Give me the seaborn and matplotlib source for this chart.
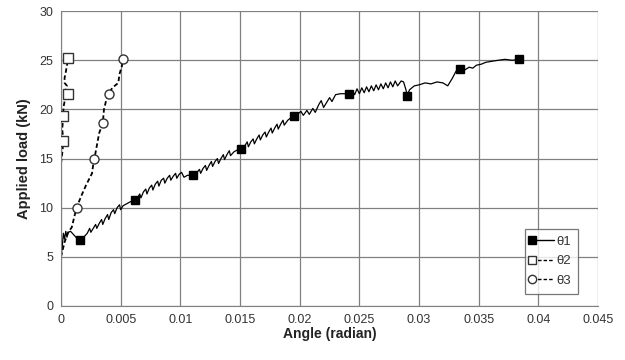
import numpy as np
import pandas as pd
import matplotlib
matplotlib.use("Agg")
import matplotlib.pyplot as plt
from matplotlib.lines import Line2D
import seaborn as sns

# theta1 - traced load/angle curve (sawtooth)
theta1_x = [0.0000, 0.0001, 0.0002, 0.0003, 0.0004, 0.0005, 0.0006, 0.0008, 0.0011, 0.0014, 0.0016,
            0.0019, 0.0022, 0.0024, 0.0025, 0.0027, 0.0029, 0.0030, 0.0032, 0.0034, 0.0035, 0.0037,
            0.0039, 0.0040, 0.0042, 0.0044, 0.0045, 0.0047, 0.0049, 0.0050, 0.0052, 0.0055, 0.0058,
            0.0062,
            0.0064, 0.0066, 0.0067, 0.0069, 0.0071, 0.0072, 0.0074, 0.0076, 0.0077, 0.0079, 0.0081,
            0.0082, 0.0084, 0.0086, 0.0087, 0.0089, 0.0091, 0.0092, 0.0094, 0.0096, 0.0097, 0.0099,
            0.0101, 0.0103, 0.0106, 0.0111,
            0.0114, 0.0116, 0.0117, 0.0119, 0.0121, 0.0122, 0.0124, 0.0126, 0.0127, 0.0129, 0.0131,
            0.0132, 0.0134, 0.0136, 0.0137, 0.0139, 0.0141, 0.0142, 0.0145, 0.0148, 0.0151,
            0.0154, 0.0156, 0.0157, 0.0159, 0.0161, 0.0162, 0.0164, 0.0166, 0.0167, 0.0169, 0.0171,
            0.0172, 0.0174, 0.0176, 0.0177, 0.0179, 0.0181, 0.0182, 0.0184, 0.0186, 0.0187, 0.0190,
            0.0193, 0.0195,
            0.0198, 0.0201, 0.0203, 0.0206, 0.0208, 0.0211, 0.0213, 0.0216, 0.0218, 0.0220, 0.0223,
            0.0225, 0.0227, 0.0230, 0.0234, 0.0238, 0.0241,
            0.0244, 0.0246, 0.0248, 0.0250, 0.0252, 0.0254, 0.0256, 0.0258, 0.0260, 0.0262, 0.0264,
            0.0266, 0.0268, 0.0270, 0.0272, 0.0274, 0.0276, 0.0278, 0.0280, 0.0282, 0.0285, 0.0287,
            0.0289, 0.0290,
            0.0292, 0.0296, 0.0300, 0.0305, 0.0310, 0.0315, 0.0320, 0.0324, 0.0328, 0.0331, 0.0334,
            0.0338, 0.0342, 0.0345, 0.0348, 0.0352, 0.0356, 0.0361, 0.0366, 0.0372, 0.0378, 0.0384]
theta1_y = [5.0, 6.0, 7.4, 6.8, 7.6, 7.0, 7.5, 7.6, 7.2, 6.8, 6.7,
            7.0, 7.4, 7.9, 7.5, 7.9, 8.3, 7.9, 8.4, 8.8, 8.3, 8.9,
            9.3, 8.8, 9.5, 9.8, 9.4, 10.0, 10.3, 9.8, 10.2, 10.4, 10.6,
            10.75,
            11.0, 11.4, 11.0, 11.6, 11.9, 11.4, 12.0, 12.3, 11.8, 12.4, 12.7,
            12.2, 12.8, 13.0, 12.5, 13.0, 13.3, 12.8, 13.2, 13.5, 13.0, 13.4,
            13.6, 13.1, 13.3, 13.3,
            13.6, 13.9, 13.5, 14.0, 14.3, 13.8, 14.3, 14.7, 14.2, 14.7, 15.0,
            14.5, 15.0, 15.4, 14.9, 15.4, 15.8, 15.3, 15.7, 15.9, 16.0,
            16.3, 16.7, 16.2, 16.7, 17.0, 16.5, 17.0, 17.4, 16.9, 17.4, 17.7,
            17.2, 17.7, 18.1, 17.6, 18.1, 18.5, 18.0, 18.5, 18.9, 18.4, 18.9,
            19.2, 19.3,
            19.5, 19.8, 19.4, 19.9, 19.5, 20.1, 19.7, 20.5, 20.9, 20.2, 20.8,
            21.2, 20.8, 21.5, 21.6, 21.6, 21.6,
            21.9, 21.5, 22.1, 21.6, 22.2, 21.7, 22.3, 21.8, 22.4, 21.9, 22.5,
            22.0, 22.6, 22.1, 22.7, 22.2, 22.8, 22.3, 22.9, 22.4, 22.9, 22.8,
            22.0, 21.4,
            22.0, 22.4, 22.5, 22.7, 22.6, 22.8, 22.7, 22.4, 23.2, 23.9, 24.1,
            24.0, 24.3, 24.2, 24.5, 24.6, 24.8, 24.9, 25.0, 25.1, 25.0, 25.1]
theta1_mark_x = [0.0016, 0.0062, 0.0111, 0.0151, 0.0195, 0.0241, 0.0290, 0.0334, 0.0384]
theta1_mark_y = [6.7, 10.75, 13.3, 16.0, 19.3, 21.6, 21.4, 24.1, 25.1]

# theta2
theta2_x = [0.0000, 0.0001, 0.0002, 0.0001, 0.0002, 0.0002, 0.0003, 0.0004, 0.0006, 0.0004,
            0.0005, 0.0003, 0.0003, 0.0004, 0.0005, 0.0006]
theta2_y = [14.5, 15.5, 16.8, 18.0, 19.3, 20.2, 20.8, 21.3, 21.6, 22.0,
            22.4, 22.7, 23.2, 23.8, 24.5, 25.2]
theta2_mark_x = [0.0002, 0.0002, 0.0006, 0.0006]
theta2_mark_y = [16.8, 19.3, 21.6, 25.2]

# theta3
theta3_x = [0.0000, 0.0003, 0.0006, 0.0009, 0.0011, 0.0013, 0.0017, 0.0021, 0.0026, 0.0027,
            0.0028, 0.0030, 0.0032, 0.0035, 0.0036, 0.0038, 0.0040, 0.0043, 0.0046, 0.0048,
            0.0049, 0.0051, 0.0052]
theta3_y = [5.0, 6.5, 7.5, 8.0, 9.0, 10.0, 11.2, 12.3, 13.5, 14.4,
            15.0, 16.3, 17.6, 18.6, 20.0, 21.0, 21.6, 22.2, 22.5, 22.7,
            23.6, 24.4, 25.1]
theta3_mark_x = [0.0013, 0.0028, 0.0035, 0.0040, 0.0052]
theta3_mark_y = [10.0, 15.0, 18.6, 21.6, 25.1]

x_ticks = [0, 0.005, 0.01, 0.015, 0.02, 0.025, 0.03, 0.035, 0.04, 0.045]
x_labels = ["0", "0.005", "0.01", "0.015", "0.02", "0.025", "0.03", "0.035", "0.04", "0.045"]
y_ticks = [0, 5, 10, 15, 20, 25, 30]

sns.set_style("white")
plt.rcParams['font.family'] = ['Liberation Sans', 'DejaVu Sans']

fig, ax = plt.subplots(figsize=(6.25, 3.6), dpi=100)
fig.subplots_adjust(left=0.0976, right=0.957, top=0.969, bottom=0.15)

dash = (0, (2.5, 1.5))
sns.lineplot(x=theta1_x, y=theta1_y, sort=False, estimator=None, color='black', lw=0.9, ax=ax)
sns.lineplot(x=theta2_x, y=theta2_y, sort=False, estimator=None, color='black', lw=1.3,
             linestyle=dash, ax=ax)
sns.lineplot(x=theta3_x, y=theta3_y, sort=False, estimator=None, color='black', lw=1.3,
             linestyle=dash, ax=ax)

ax.plot(theta1_mark_x, theta1_mark_y, 's', color='black', ms=6, zorder=5)
ax.plot(theta2_mark_x, theta2_mark_y, 's', mfc='white', mec='#333333', mew=1, ms=6.5, zorder=5)
ax.plot(theta3_mark_x, theta3_mark_y, 'o', mfc='white', mec='#333333', mew=1, ms=6.5, zorder=5)

ax.set_xlim(0, 0.045)
ax.set_ylim(0, 30)
ax.set_xticks(x_ticks)
ax.set_xticklabels(x_labels)
ax.set_yticks(y_ticks)
ax.grid(True, color='#808080', lw=0.9)
ax.set_axisbelow(True)
for s in ['top', 'right']:
    ax.spines[s].set_visible(False)
for s in ['left', 'bottom']:
    ax.spines[s].set_color('#808080')
ax.tick_params(axis='both', direction='out', length=4, width=0.9, color='#808080',
               labelsize=9, labelcolor='#333333', pad=1.5)

ax.set_xlabel('Angle (radian)', fontsize=10, fontweight='bold', color='#222222', labelpad=1)
ax.set_ylabel('Applied load (kN)', fontsize=10.5, fontweight='bold', color='#222222', labelpad=6)

handles = [
    Line2D([], [], color='black', lw=1, marker='s', ms=6),
    Line2D([], [], color='black', lw=1, ls=dash, marker='s', mfc='white', mec='#333333', ms=6),
    Line2D([], [], color='black', lw=1, ls=dash, marker='o', mfc='white', mec='#333333', ms=6),
]
leg = ax.legend(handles, ['θ1', 'θ2', 'θ3'], loc='lower right', bbox_to_anchor=(0.975, 0.02),
                fontsize=9.5, frameon=True, fancybox=False, edgecolor='#555555',
                handlelength=1.7, handletextpad=0.2, borderpad=0.5, labelspacing=0.55)
leg.get_frame().set_linewidth(0.9)
for h in leg.legend_handles:
    h.set_markevery([0])
for t in leg.get_texts():
    t.set_color('#333333')

fig.savefig('out.png', dpi=100, facecolor='white')
